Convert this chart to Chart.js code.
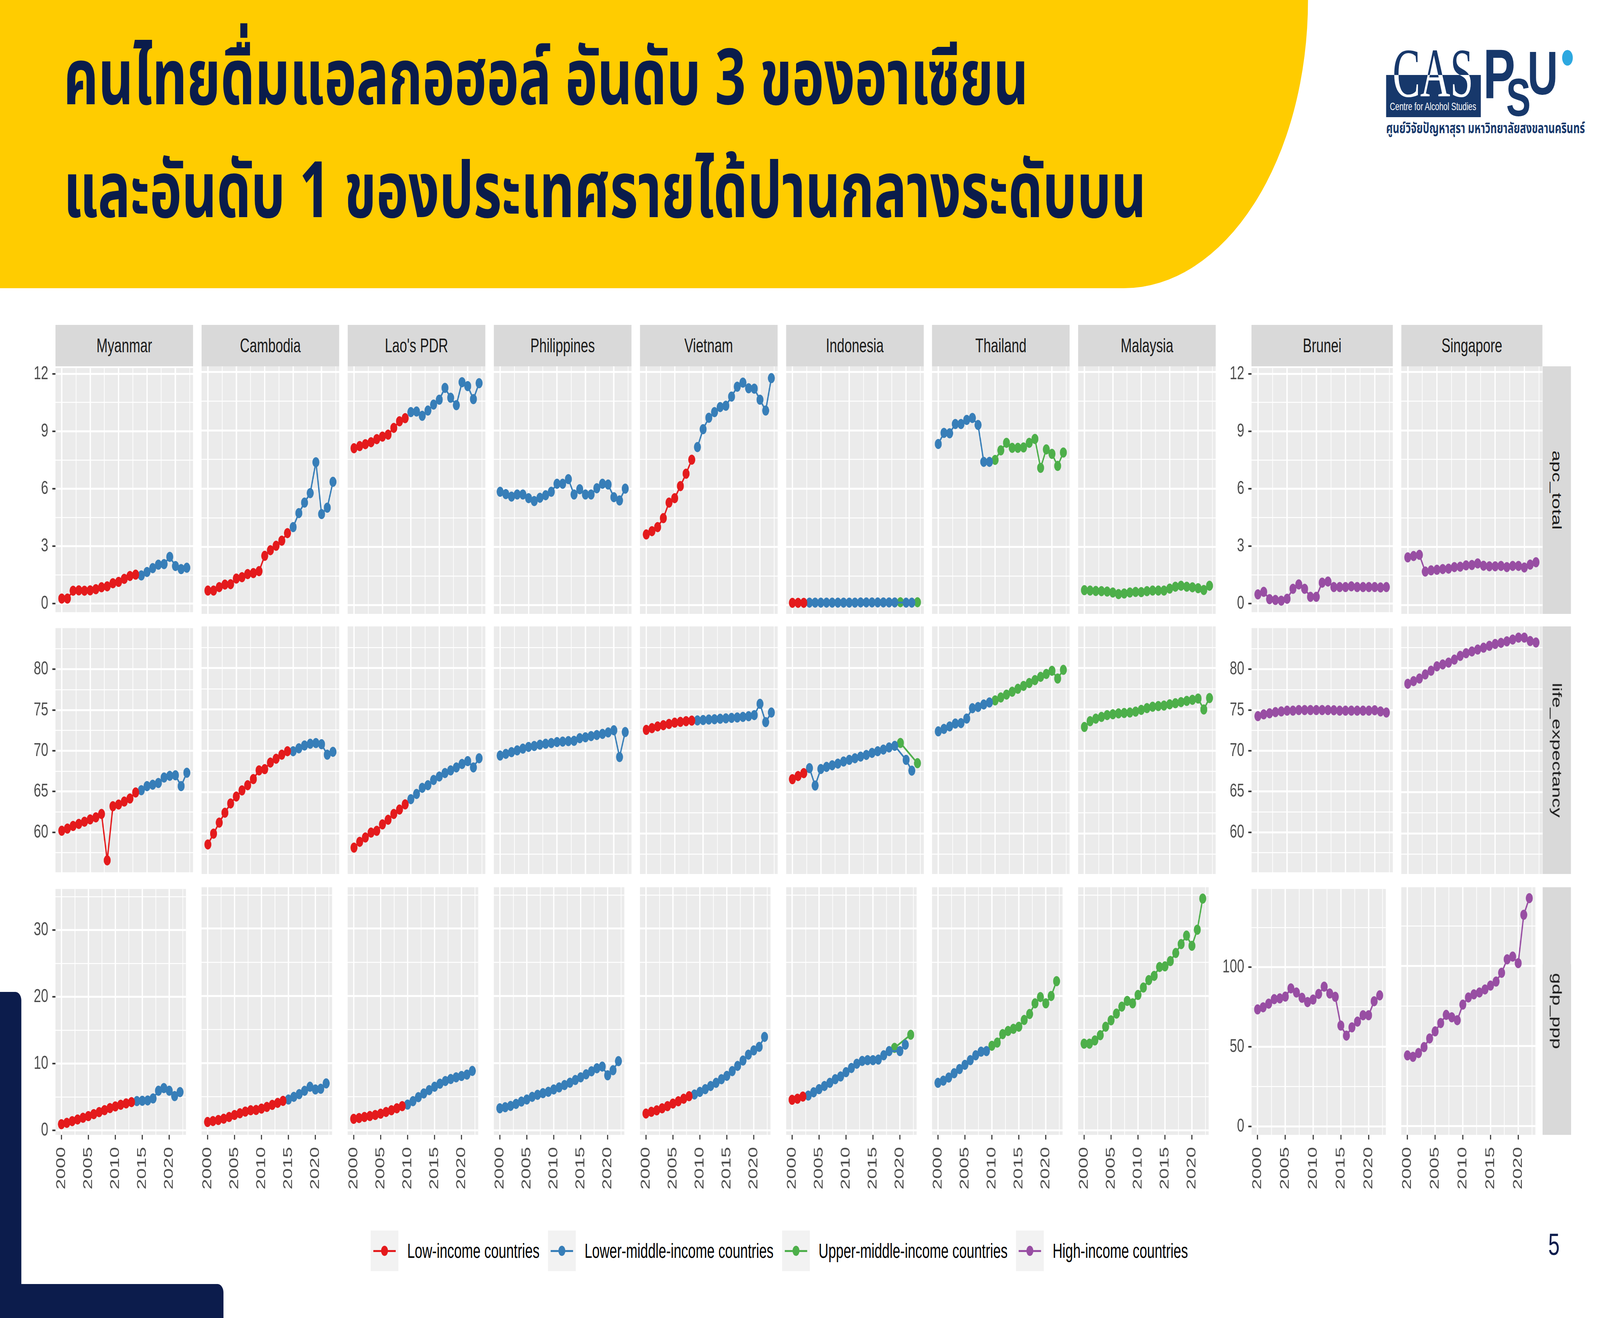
<!DOCTYPE html>
<html><head><meta charset="utf-8">
<script src="https://cdn.jsdelivr.net/npm/chart.js@4.4.1/dist/chart.umd.min.js"></script>
<style>
html,body{margin:0;padding:0;background:#fff;width:100%;height:100%;overflow:hidden;}
body{font-family:"Liberation Sans",Arial,Helvetica,sans-serif;}
#stage{position:absolute;left:0;top:0;width:6000px;height:3375px;overflow:hidden;background:#fff;transform-origin:0 0;}
.abs{position:absolute;}
#hdr{position:absolute;left:0;top:0;width:4905px;height:738px;background:#FFCC00;border-bottom-right-radius:690px 738px;}
.title{position:absolute;left:238px;font-family:"Noto Sans Thai","Noto Sans Thai UI","Noto Sans","Noto Sans CJK SC",sans-serif;font-weight:700;font-size:200px;line-height:200px;color:#0A1C4B;white-space:nowrap;transform:scaleX(1.014);transform-origin:0 0;}
.strip{position:absolute;background:#D9D9D9;color:#1A1A1A;font-size:50px;display:flex;align-items:center;justify-content:center;white-space:nowrap;}
.vstrip span{display:block;transform:rotate(90deg);white-space:nowrap;}
canvas{position:absolute;}
.lk{position:relative;width:104px;height:104px;background:#F2F2F2;flex:none;}
.ln{position:absolute;left:10px;right:10px;top:50px;height:5px;}
.dt{position:absolute;left:39px;top:39px;width:26px;height:26px;border-radius:50%;}
.lt{margin-left:33px;margin-right:32px;font-size:51px;color:#000;white-space:nowrap;}
.clip{position:absolute;overflow:hidden;}
</style></head><body>
<div id="stage">
<div id="hdr"></div>
<div class="title" style="top:106px;">คนไทยดื่มแอลกอฮอล์ อันดับ 3 ของอาเซียน</div>
<div class="title" style="top:395px;">และอันดับ 1 ของประเทศรายได้ปานกลางระดับบน</div>

<!-- logo -->
<div class="abs" style="left:5198px;top:192px;width:355px;height:108px;background:#17386B;"></div>
<div class="clip" style="left:5222px;top:90px;width:320px;height:102px;">
  <div class="abs" style="left:0;top:9px;font-family:'Liberation Serif','DejaVu Serif',serif;font-size:177px;line-height:177px;color:#17386B;transform:scaleX(0.88);transform-origin:0 0;">CAS</div>
</div>
<div class="clip" style="left:5222px;top:192px;width:320px;height:80px;">
  <div class="abs" style="left:0;top:-93px;font-family:'Liberation Serif','DejaVu Serif',serif;font-size:177px;line-height:177px;color:#FFFFFF;transform:scaleX(0.88);transform-origin:0 0;">CAS</div>
</div>
<div class="abs" style="left:5212px;top:259px;font-size:28px;line-height:28px;color:#FFFFFF;white-space:nowrap;">Centre for Alcohol Studies</div>
<div class="abs" style="left:5562px;top:100px;font-size:180px;line-height:180px;font-weight:700;color:#17386B;">P</div>
<div class="abs" style="left:5648px;top:180px;font-size:138px;line-height:138px;font-weight:700;color:#17386B;">S</div>
<div class="abs" style="left:5728px;top:107px;font-size:158px;line-height:158px;font-weight:700;color:#17386B;">U</div>
<div class="abs" style="left:5858px;top:128px;width:40px;height:40px;border-radius:50%;background:#2DA8E0;"></div>
<div class="abs" style="left:5198px;top:306px;font-family:'Noto Sans Thai','Noto Sans',sans-serif;font-weight:700;font-size:38px;line-height:48px;color:#17386B;white-space:nowrap;">ศูนย์วิจัยปัญหาสุรา มหาวิทยาลัยสงขลานครินทร์</div>

<!-- navy decoration -->
<div class="abs" style="left:0;top:2540px;width:80px;height:835px;background:#0C1C4C;border-top-right-radius:22px;"></div>
<div class="abs" style="left:0;top:3288px;width:838px;height:87px;background:#0C1C4C;border-top-right-radius:22px;"></div>
<div class="abs" style="left:5806px;top:3148px;font-size:77px;line-height:77px;color:#0C1C4C;">5</div>

<div id="legend" class="abs" style="left:1390px;top:3151px;height:104px;display:flex;align-items:center;"></div>
</div>

<script>
// ---------------- data ----------------
const years = [2000,2001,2002,2003,2004,2005,2006,2007,2008,2009,2010,2011,2012,2013,2014,2015,2016,2017,2018,2019,2020,2021,2022];
const incomeLabels = ['Low-income countries','Lower-middle-income countries','Upper-middle-income countries','High-income countries'];
const incomeColors = ['#E41A1C','#377EB8','#4DAF4A','#984EA3'];
const metricLabels = ['apc_total','life_expectancy','gdp_ppp'];
const xTickValues = [2000,2002.5,2005,2007.5,2010,2012.5,2015,2017.5,2020,2022.5];
const xTickLabels = [2000,2005,2010,2015,2020];
const apcTickValues = [0,1.5,3,4.5,6,7.5,9,10.5,12];
const apcTickLabels = [0,3,6,9,12];
const lifeTickValues = [57.5,60,62.5,65,67.5,70,72.5,75,77.5,80,82.5];
const lifeTickLabels = [60,65,70,75,80];
const gdpLeftTickValues = [0,5,10,15,20,25,30,35];
const gdpLeftTickLabels = [0,10,20,30];
const gdpRightTickValues = [0,25,50,75,100,125];
const gdpRightTickLabels = [0,50,100];

// income group per year: 0 low, 1 lower-middle, 2 upper-middle, 3 high
const myanmarIncome   = [0,0,0,0,0,0,0,0,0,0,0,0,0,0,1,1,1,1,1,1,1,1,1];
const myanmarApc      = [0.26,0.26,0.67,0.69,0.67,0.69,0.75,0.85,0.90,1.06,1.13,1.29,1.44,1.51,1.47,1.65,1.85,2.03,2.06,2.44,1.96,1.80,1.87];
const myanmarLife     = [60.19,60.46,60.78,61.03,61.30,61.58,61.83,62.25,56.56,63.20,63.41,63.77,64.15,64.89,65.16,65.67,65.84,66.05,66.72,66.93,67.00,65.67,67.31];
const myanmarGdp      = [0.94,1.15,1.40,1.65,1.90,2.15,2.45,2.75,3.05,3.35,3.60,3.85,4.05,4.25,4.40,4.45,4.50,4.80,5.95,6.35,5.95,5.15,5.75];

const cambodiaIncome  = [0,0,0,0,0,0,0,0,0,0,0,0,0,0,0,1,1,1,1,1,1,1,1];
const cambodiaApc     = [0.75,0.75,0.93,1.06,1.08,1.37,1.44,1.60,1.65,1.75,2.54,2.83,3.06,3.32,3.71,4.02,4.74,5.28,5.77,7.36,4.69,5.02,6.35];
const cambodiaLife    = [58.67,59.98,61.31,62.51,63.63,64.47,65.21,65.84,66.58,67.63,67.78,68.58,69.04,69.53,69.95,69.95,70.30,70.64,70.85,70.94,70.79,69.53,69.88];
const cambodiaGdp     = [1.26,1.40,1.55,1.75,2.00,2.30,2.55,2.80,3.00,3.05,3.25,3.50,3.80,4.10,4.40,4.60,5.00,5.40,5.90,6.50,6.10,6.20,7.00];

const laoIncome       = [0,0,0,0,0,0,0,0,0,0,1,1,1,1,1,1,1,1,1,1,1,1,1];
const laoApc          = [8.08,8.19,8.29,8.39,8.55,8.68,8.78,9.13,9.47,9.63,9.94,9.97,9.75,10.02,10.33,10.58,11.19,10.68,10.30,11.48,11.28,10.61,11.43];
const laoLife         = [58.29,58.99,59.52,60.11,60.32,61.10,61.66,62.36,62.89,63.52,64.15,64.78,65.52,65.84,66.47,66.89,67.31,67.63,67.99,68.41,68.75,67.99,69.10];
const laoGdp          = [1.73,1.85,2.00,2.15,2.30,2.50,2.75,3.00,3.30,3.62,3.85,4.35,4.95,5.50,6.00,6.50,6.95,7.35,7.65,7.90,8.10,8.30,8.85];

const philippinesIncome = [1,1,1,1,1,1,1,1,1,1,1,1,1,1,1,1,1,1,1,1,1,1,1];
const philippinesApc  = [5.84,5.72,5.59,5.70,5.70,5.51,5.36,5.53,5.66,5.84,6.25,6.25,6.49,5.70,5.97,5.70,5.70,6.02,6.25,6.21,5.56,5.39,6.00];
const philippinesLife = [69.42,69.63,69.84,70.05,70.26,70.47,70.58,70.74,70.85,70.94,71.06,71.11,71.17,71.21,71.53,71.63,71.78,71.91,72.05,72.22,72.48,69.25,72.27];
const philippinesGdp  = [3.30,3.45,3.65,3.95,4.30,4.60,5.00,5.30,5.55,5.75,6.10,6.40,6.75,7.10,7.50,7.90,8.35,8.80,9.25,9.50,8.20,8.95,10.30];

const vietnamIncome   = [0,0,0,0,0,0,0,0,0,1,1,1,1,1,1,1,1,1,1,1,1,1,1];
const vietnamApc      = [3.64,3.81,4.02,4.48,5.28,5.51,6.13,6.77,7.49,8.14,9.06,9.65,9.94,10.20,10.27,10.74,11.25,11.46,11.17,11.15,10.58,10.02,11.69];
const vietnamLife     = [72.53,72.74,72.95,73.10,73.25,73.40,73.50,73.58,73.65,73.68,73.72,73.78,73.82,73.88,73.92,73.98,74.03,74.10,74.18,74.32,75.68,73.47,74.63];
const vietnamGdp      = [2.52,2.77,2.99,3.30,3.62,4.00,4.34,4.72,5.10,5.35,5.73,6.14,6.61,7.08,7.62,8.12,8.82,9.60,10.39,11.27,11.90,12.43,13.91];

const indonesiaIncome = [0,0,0,1,1,1,1,1,1,1,1,1,1,1,1,1,1,1,1,2,1,1,2];
const indonesiaApc    = [0.12,0.12,0.12,0.13,0.13,0.13,0.13,0.13,0.13,0.13,0.13,0.13,0.14,0.14,0.14,0.14,0.14,0.14,0.14,0.15,0.13,0.13,0.15];
const indonesiaLife   = [66.57,66.95,67.30,67.90,65.80,67.80,68.05,68.25,68.45,68.70,68.90,69.10,69.30,69.50,69.75,69.95,70.15,70.40,70.60,70.95,68.90,67.60,68.50];
const indonesiaGdp    = [4.56,4.72,5.04,5.19,5.67,6.14,6.61,7.08,7.62,8.03,8.66,9.29,9.92,10.33,10.45,10.45,10.54,11.17,11.80,12.28,11.80,12.75,14.23];

const thailandIncome  = [1,1,1,1,1,1,1,1,1,1,2,2,2,2,2,2,2,2,2,2,2,2,2];
const thailandApc     = [8.30,8.87,8.85,9.33,9.33,9.54,9.64,9.28,7.38,7.38,7.48,7.97,8.36,8.10,8.10,8.12,8.36,8.56,7.07,8.02,7.79,7.17,7.86];
const thailandLife    = [72.35,72.65,72.95,73.30,73.35,73.90,75.15,75.30,75.60,75.85,76.10,76.45,76.80,77.15,77.50,77.85,78.20,78.55,78.95,79.30,79.68,78.74,79.79];
const thailandGdp     = [7.08,7.40,7.87,8.50,9.13,9.76,10.45,11.17,11.71,11.80,12.59,13.06,14.32,14.79,15.11,15.42,16.43,17.31,18.89,19.83,18.89,19.99,22.19];

const malaysiaIncome  = [2,2,2,2,2,2,2,2,2,2,2,2,2,2,2,2,2,2,2,2,2,2,2];
const malaysiaApc     = [0.77,0.75,0.73,0.72,0.70,0.65,0.57,0.60,0.65,0.68,0.67,0.72,0.75,0.75,0.75,0.85,0.95,1.00,0.95,0.92,0.87,0.78,1.00];
const malaysiaLife    = [72.88,73.58,73.89,74.10,74.32,74.42,74.53,74.57,74.63,74.74,74.95,75.16,75.33,75.41,75.47,75.62,75.75,75.89,76.04,76.17,76.32,75.00,76.38];
const malaysiaGdp     = [12.90,12.90,13.38,14.16,15.42,16.37,17.37,18.41,19.26,18.89,20.14,21.25,22.35,22.98,24.30,24.39,25.18,26.38,27.70,28.96,27.45,29.84,34.47];

const bruneiIncome    = [3,3,3,3,3,3,3,3,3,3,3,3,3,3,3,3,3,3,3,3,3,3,3];
const bruneiApc       = [0.48,0.61,0.23,0.19,0.15,0.25,0.77,1.00,0.77,0.35,0.35,1.09,1.15,0.86,0.86,0.86,0.90,0.86,0.86,0.86,0.86,0.84,0.86];
const bruneiLife      = [74.25,74.47,74.60,74.74,74.83,74.92,74.92,75.00,75.00,75.00,75.00,75.00,75.00,74.97,74.92,74.92,74.92,74.92,74.92,74.92,74.97,74.83,74.70];
const bruneiGdp       = [73.5,74.8,77.1,79.9,80.4,81.5,86.7,84.1,80.8,78.1,79.7,83.2,87.8,83.5,81.4,63.3,57.0,62.2,65.8,69.8,69.8,78.6,82.3];

const singaporeIncome = [3,3,3,3,3,3,3,3,3,3,3,3,3,3,3,3,3,3,3,3,3,3,3];
const singaporeApc    = [2.46,2.53,2.59,1.73,1.79,1.82,1.86,1.88,1.96,1.98,2.05,2.07,2.15,2.03,2.00,2.00,2.02,1.96,2.02,2.02,1.94,2.09,2.21];
const singaporeLife   = [78.11,78.43,78.74,79.24,79.69,80.22,80.45,80.67,81.03,81.48,81.80,82.02,82.25,82.47,82.70,82.92,83.06,83.24,83.46,83.69,83.69,83.28,83.10];
const singaporeGdp    = [44.2,43.3,45.7,49.4,54.8,59.2,64.4,69.5,68.0,66.2,75.9,80.4,82.3,83.5,85.4,87.8,90.3,95.8,104.2,105.9,101.8,132.0,142.4];

// ---------------- tables built from the arrays ----------------
const leftCountries = [
  {name:"Myanmar", inc:myanmarIncome, v:[myanmarApc,myanmarLife,myanmarGdp]},
  {name:"Cambodia", inc:cambodiaIncome, v:[cambodiaApc,cambodiaLife,cambodiaGdp]},
  {name:"Lao's PDR", inc:laoIncome, v:[laoApc,laoLife,laoGdp]},
  {name:"Philippines", inc:philippinesIncome, v:[philippinesApc,philippinesLife,philippinesGdp]},
  {name:"Vietnam", inc:vietnamIncome, v:[vietnamApc,vietnamLife,vietnamGdp]},
  {name:"Indonesia", inc:indonesiaIncome, v:[indonesiaApc,indonesiaLife,indonesiaGdp]},
  {name:"Thailand", inc:thailandIncome, v:[thailandApc,thailandLife,thailandGdp]},
  {name:"Malaysia", inc:malaysiaIncome, v:[malaysiaApc,malaysiaLife,malaysiaGdp]}
];
const rightCountries = [
  {name:"Brunei", inc:bruneiIncome, v:[bruneiApc,bruneiLife,bruneiGdp]},
  {name:"Singapore", inc:singaporeIncome, v:[singaporeApc,singaporeLife,singaporeGdp]}
];

// ---------------- fit the 6000x3375 design to the whole window ----------------
const stage = document.getElementById('stage');
stage.style.transform = 'scale(' + (window.innerWidth / 6000) + ',' + (window.innerHeight / 3375) + ')';

// ---------------- layout ----------------
const FONT = '"Liberation Sans", Arial, Helvetica, sans-serif';
const M = 40, AXW = 110, AXH = 160;
const ROW_TOP = [938, 1604, 2272], ROW_H = 634;
const STRIP_TOP = 832, STRIP_H = 106;
const leftX = i => 208 + 547.9 * i, LEFT_W = 516;
const rightX = [4693, 5255], RIGHT_W = [530, 529];
const X_MIN = 1998.9, X_MAX = 2023.1;
const leftY = [
  {min:-0.45, max:12.3, ticks:apcTickValues, labels:apcTickLabels},
  {min:55.1, max:85.05, ticks:lifeTickValues, labels:lifeTickLabels},
  {min:-0.65, max:36.15, ticks:gdpLeftTickValues, labels:gdpLeftTickLabels}
];
const rightY = [
  leftY[0], leftY[1],
  {min:-5.4, max:149.2, ticks:gdpRightTickValues, labels:gdpRightTickLabels}
];

const bgPlugin = {
  id:'panelBg',
  beforeDraw(chart){
    const a = chart.chartArea, ctx = chart.ctx;
    ctx.save(); ctx.fillStyle = '#EBEBEB';
    ctx.fillRect(a.left, a.top, a.right - a.left, a.bottom - a.top);
    ctx.restore();
  }
};

function panel(x, y, w, h, showY, showX, ycfg, values, inc) {
  const cw = M + (showY ? AXW : 0) + w + M;
  const chh = M + h + (showX ? AXH : 0) + M;
  const c = document.createElement('canvas');
  c.width = cw; c.height = chh;
  c.style.width = cw + 'px'; c.style.height = chh + 'px';
  c.style.left = (x - M - (showY ? AXW : 0)) + 'px';
  c.style.top = (y - M) + 'px';
  stage.appendChild(c);
  const datasets = [];
  for (let g = 0; g < 4; g++) {
    const pts = [];
    years.forEach((yr, i) => { if (inc[i] === g) pts.push({x: yr, y: values[i]}); });
    if (pts.length) datasets.push({
      label: incomeLabels[g], data: pts,
      borderColor: incomeColors[g], backgroundColor: incomeColors[g],
      pointBackgroundColor: incomeColors[g], pointBorderWidth: 0,
      pointRadius: 13, pointHoverRadius: 13, borderWidth: 5, tension: 0
    });
  }
  const xMajor = v => xTickLabels.includes(v);
  const yMajor = v => ycfg.labels.includes(v);
  new Chart(c, {
    type: 'line',
    data: {datasets},
    plugins: [bgPlugin],
    options: {
      responsive: false, animation: false, events: [], devicePixelRatio: 1,
      layout: {padding: {left: M, right: M, top: M, bottom: M}, autoPadding: false},
      plugins: {legend: {display: false}, tooltip: {enabled: false}},
      scales: {
        x: {
          type: 'linear', position: 'bottom', min: X_MIN, max: X_MAX, bounds: 'data',
          afterBuildTicks: s => { s.ticks = xTickValues.map(v => ({value: v})); },
          afterFit: s => { s.height = showX ? AXH : 0; },
          border: {display: false},
          grid: {
            color: '#FFFFFF',
            lineWidth: ctx => (ctx.tick && xMajor(ctx.tick.value)) ? 5 : 2.5,
            drawTicks: showX, tickLength: 12, tickWidth: 4,
            tickColor: ctx => (ctx.tick && xMajor(ctx.tick.value)) ? '#333333' : 'rgba(0,0,0,0)'
          },
          ticks: {
            display: showX, autoSkip: false, minRotation: 90, maxRotation: 90, padding: 19,
            color: '#4D4D4D', font: {family: FONT, size: 49},
            callback: v => xMajor(v) ? String(v) : ''
          }
        },
        y: {
          type: 'linear', position: 'left', min: ycfg.min, max: ycfg.max, bounds: 'data',
          afterBuildTicks: s => { s.ticks = ycfg.ticks.map(v => ({value: v})); },
          afterFit: s => { s.width = showY ? AXW : 0; },
          border: {display: false},
          grid: {
            color: '#FFFFFF',
            lineWidth: ctx => (ctx.tick && yMajor(ctx.tick.value)) ? 5 : 2.5,
            drawTicks: showY, tickLength: 12, tickWidth: 4,
            tickColor: ctx => (ctx.tick && yMajor(ctx.tick.value)) ? '#333333' : 'rgba(0,0,0,0)'
          },
          ticks: {
            display: showY, autoSkip: false, padding: 15,
            color: '#4D4D4D', font: {family: FONT, size: 49},
            callback: v => yMajor(v) ? String(v) : ''
          }
        }
      }
    }
  });
}

function strip(x, y, w, h, text, vertical) {
  const d = document.createElement('div');
  d.className = 'strip' + (vertical ? ' vstrip' : '');
  d.style.left = x + 'px'; d.style.top = y + 'px';
  d.style.width = w + 'px'; d.style.height = h + 'px';
  const s = document.createElement('span'); s.textContent = text; d.appendChild(s);
  stage.appendChild(d);
}

leftCountries.forEach((c, i) => {
  strip(leftX(i), STRIP_TOP, LEFT_W, STRIP_H, c.name, false);
  for (let r = 0; r < 3; r++) {
    panel(leftX(i), ROW_TOP[r], LEFT_W, ROW_H, i === 0, r === 2, leftY[r], c.v[r], c.inc);
  }
});
rightCountries.forEach((c, i) => {
  strip(rightX[i], STRIP_TOP, RIGHT_W[i], STRIP_H, c.name, false);
  for (let r = 0; r < 3; r++) {
    panel(rightX[i], ROW_TOP[r], RIGHT_W[i], ROW_H, i === 0, r === 2, rightY[r], c.v[r], c.inc);
  }
});
metricLabels.forEach((m, r) => strip(5785, ROW_TOP[r], 106, ROW_H, m, true));

// legend
const lg = document.getElementById('legend');
incomeLabels.forEach((lab, g) => {
  const k = document.createElement('div'); k.className = 'lk';
  const ln = document.createElement('div'); ln.className = 'ln'; ln.style.background = incomeColors[g];
  const dt = document.createElement('div'); dt.className = 'dt'; dt.style.background = incomeColors[g];
  k.appendChild(ln); k.appendChild(dt);
  const t = document.createElement('span'); t.className = 'lt'; t.textContent = lab;
  lg.appendChild(k); lg.appendChild(t);
});
</script>
</body></html>
